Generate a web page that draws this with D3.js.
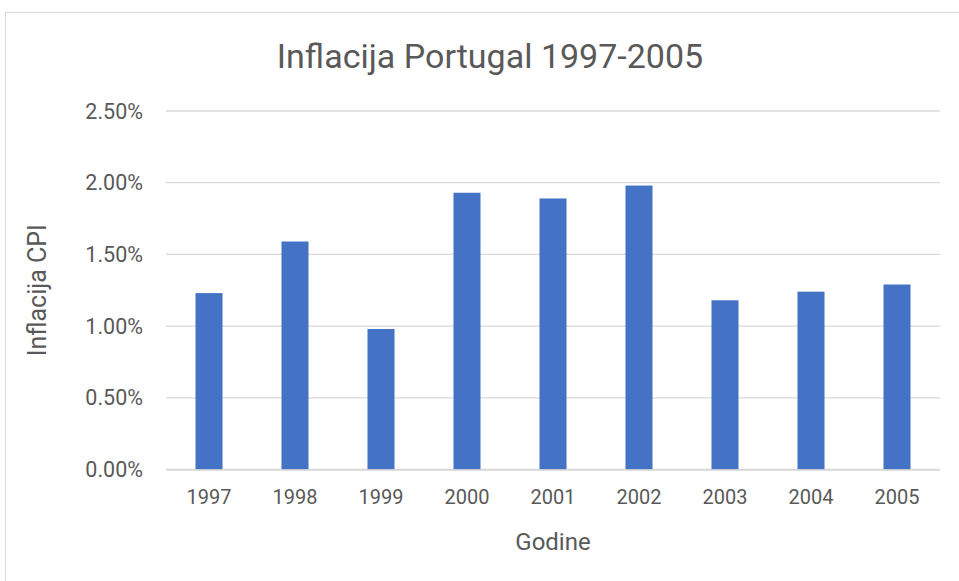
<!DOCTYPE html>
<html>
<head>
<meta charset="utf-8">
<script src="https://cdn.jsdelivr.net/npm/d3@7"></script>
<style>
  body { margin: 0; background: #fff; }
  svg text { font-family: Roboto, "Noto Sans", sans-serif; fill: #595959; }
</style>
</head>
<body>
<div id="chartArea"></div>
<script>
// Data
let years = ['1997', '1998', '1999', '2000', '2001', '2002', '2003', '2004', '2005'];
let inflation = [0.0123, 0.0159, 0.0098, 0.0193, 0.0189, 0.0198, 0.0118, 0.0124, 0.0129];
let yTicks = [0, 0.005, 0.01, 0.015, 0.02, 0.025];

let width = 959,
    height = 581;

let margins = {
    top: 111,
    right: 19,
    bottom: 111.5,
    left: 166
};

let plotWidth = width - margins.left - margins.right,
    plotHeight = height - margins.top - margins.bottom;

let svg = d3.select('#chartArea')
    .append('svg')
    .attr('width', width)
    .attr('height', height);

// chart area border
svg.append('rect')
    .attr('x', 5.5)
    .attr('y', 12.5)
    .attr('width', 1000)
    .attr('height', 1000)
    .attr('fill', 'none')
    .attr('stroke', '#d9d9d9');

let chart = svg.append('g')
    .attr('transform', 'translate(' + margins.left + ',' + margins.top + ')');

let xScale = d3.scaleBand()
    .domain(years)
    .range([0, plotWidth])
    .paddingInner(0.686)
    .paddingOuter(0.343);

let yScale = d3.scaleLinear()
    .domain([0, 0.025])
    .range([plotHeight, 0]);

// gridlines
chart.append('g')
    .selectAll('line')
    .data(yTicks)
    .enter().append('line')
    .attr('x1', 0)
    .attr('x2', plotWidth)
    .attr('y1', d => yScale(d))
    .attr('y2', d => yScale(d))
    .attr('stroke', '#d9d9d9')
    .attr('stroke-width', 1.3);

// y tick labels
chart.append('g')
    .selectAll('text')
    .data(yTicks)
    .enter().append('text')
    .attr('x', -23)
    .attr('y', d => yScale(d))
    .attr('dy', '0.35em')
    .attr('text-anchor', 'end')
    .style('font-size', '21.5px')
    .text(d => d3.format('.2%')(d));

// bars
chart.selectAll('.bar')
    .data(inflation)
    .enter().append('rect')
    .attr('class', 'bar')
    .attr('x', (d, i) => xScale(years[i]))
    .attr('width', xScale.bandwidth())
    .attr('y', d => yScale(d))
    .attr('height', d => plotHeight - yScale(d))
    .attr('fill', '#4472c4');

// x axis line and labels
let xAxis = chart.append('g')
    .attr('transform', 'translate(0,' + plotHeight + ')')
    .call(d3.axisBottom(xScale).tickSize(0).tickPadding(20));

xAxis.select('.domain')
    .attr('stroke', '#d9d9d9')
    .attr('stroke-width', 1.3);

xAxis.selectAll('text')
    .style('font-size', '20px')
    .style('font-family', 'Roboto, "Noto Sans", sans-serif')
    .attr('fill', '#595959');

// Text for the x-axis
chart.append('text')
    .attr('x', plotWidth / 2)
    .attr('y', plotHeight + 80)
    .attr('text-anchor', 'middle')
    .style('font-size', '24px')
    .text('Godine');

// Text for the y-axis
chart.append('text')
    .attr('transform', 'rotate(-90)')
    .attr('x', -plotHeight / 2)
    .attr('y', 37 - margins.left)
    .attr('dy', '0.35em')
    .attr('text-anchor', 'middle')
    .style('font-size', '25px')
    .text('Inflacija CPI');

// Chart title
svg.append('text')
    .attr('x', 490)
    .attr('y', 68)
    .attr('text-anchor', 'middle')
    .style('font-size', '34px')
    .text('Inflacija Portugal 1997-2005');
</script>
</body>
</html>
